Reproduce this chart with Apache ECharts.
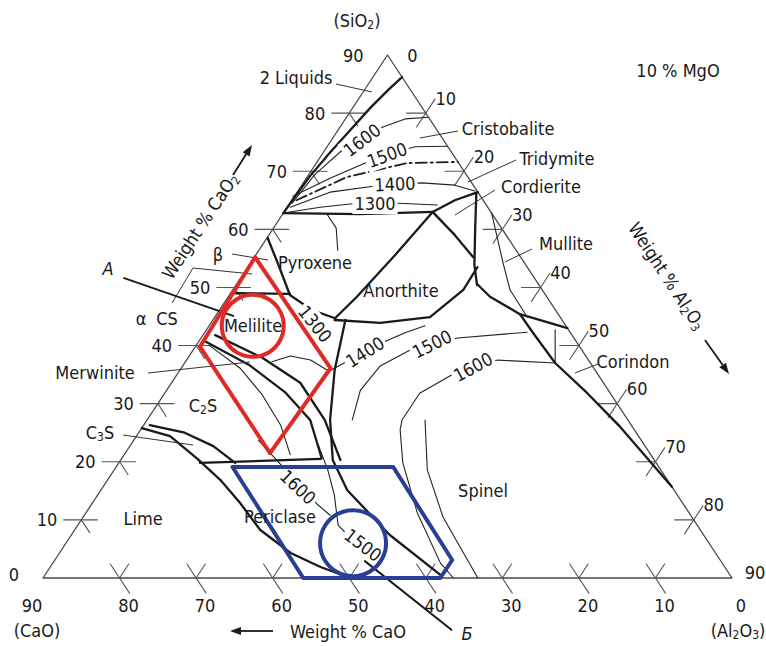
<!DOCTYPE html>
<html>
<head>
<meta charset="utf-8">
<title>CaO–Al2O3–SiO2 at 10 % MgO</title>
<script src="https://cdn.jsdelivr.net/npm/echarts@6.0.0/dist/echarts.min.js"></script>
<style>
html,body{margin:0;padding:0;background:#fff;}
#chart{width:766px;height:646px;}
</style>
</head>
<body>
<div id="chart"></div>
<script>
// Liquidus projection of CaO–Al2O3–SiO2 at a constant 10 wt% MgO.
// Every point is a composition [CaO, SiO2] in wt%; Al2O3 = 90 - CaO - SiO2.

const sideTicks = [10, 20, 30, 40, 50, 60, 70, 80];
const caoTickLabels = ['90', '80', '70', '60', '50', '40', '30', '20', '10', '0'];
const sio2TickLabels = ['0', '10', '20', '30', '40', '50', '60', '70', '80', '90'];
const al2o3TickLabels = ['0', '10', '20', '30', '40', '50', '60', '70', '80', '90'];

// heavy field boundaries
const twoLiquidLimit = [[0, 86.2], [2.9, 84], [6.8, 80.9], [11.3, 77.1], [15.8, 73.3], [20.5, 69.2], [24.2, 65.7], [27.2, 62.8]];
const pyroxeneTop = [[27.2, 62.8], [17.3, 62.6], [7.6, 63]];
const cordieriteTop = [[7.6, 63], [3.7, 65], [0, 66.4]];
const cordieriteMullite = [[0.3, 66.2], [3.6, 59.9], [6.7, 53.9], [8.1, 50.4]];
const anorthiteUpper = [[7.6, 63], [6.7, 59], [6.2, 55.2]];
const pyroxeneAnorthite = [[7.6, 63], [16.2, 55.6], [24.8, 48.4], [29.5, 44.7]];
const anorthiteLower = [[29.7, 44.4], [24, 43.9], [17, 44.9], [10.3, 49.6], [6.5, 53.5]];
const pyroxeneMelilite = [[31.4, 58.5], [32.3, 53.9], [33.4, 48.7], [31.8, 46.1], [29.5, 44.7]];
const meliliteTop = [[40.4, 49], [33.3, 48.9]];
const meliliteC2S = [[48.5, 40.8], [44.7, 36.6], [42.4, 32], [41.5, 27.2], [43.3, 20.6]];
const meliliteSpinel = [[46.6, 41.8], [42.4, 37.9], [39.6, 33.6], [39.6, 27.2], [41, 20.3]];
const spinelWest = [[28.3, 44.4], [34, 35.8], [38.9, 27.2], [42, 20.3], [42.7, 15.1], [41, 7.4], [37.8, 0.5]];
const limeField = [[64.2, 25.8], [61.2, 24.4], [59.6, 20.6], [58.4, 16.9], [57.8, 12.9], [57.5, 8.3], [55.5, 4.3], [52.8, 1.9], [49.9, 0]];
const c3sField = [[62.9, 26.3], [59, 25], [56.4, 22.7], [55, 19.8]];
const c2sLower = [[59.6, 19.8], [43.5, 20.5]];
const mulliteSpinel = [[8, 50.6], [7.4, 48.4], [5, 45.4]];
const spinelCorundum = [[5, 45.4], [4.9, 42.2], [4.6, 37], [3, 31.8], [1.6, 26], [0, 15.7]];
const mulliteCorundum = [[5, 45.4], [0, 43]];

// isotherms and the silica inversion
const iso1600Silica = [[25.2, 64.5], [19.8, 69.4], [14, 73.7], [6.8, 77.6], [3.2, 79], [0, 79.3]];
const iso1500Silica = [[24.5, 65.7], [18.1, 68.8], [12.2, 71.4], [8.2, 73], [4.3, 74.2], [0, 74.3]];
const silicaInversion = [[24.4, 65], [15.8, 69], [6.8, 71.4], [0, 71.6]];
const iso1400Silica = [[25.8, 63.8], [19.3, 66.4], [12.6, 67.5], [6.5, 68], [2.4, 67.6], [0.3, 66.6]];
const iso1300Silica = [[27.2, 62.8], [21.9, 63.8], [16.7, 64.5], [11.3, 64.5], [6.4, 64.2]];
const iso1400Middle = [[35.2, 35.4], [31.6, 37.3], [24.8, 40.8], [21.6, 42.2], [18.4, 43.4]];
const iso1600Spinel = [[4.6, 37], [11.8, 37.5], [16, 36.5], [19.4, 34.8], [24.9, 31.8], [29.5, 27.2], [30.6, 25.5], [33.1, 19.8], [35.5, 11.2], [36.8, 2.6], [36.4, 0]];
const iso1500Spinel = [[5.6, 42.3], [15.2, 41.3], [22.5, 39.2], [27.7, 36.5], [32.4, 32.3], [36, 27.2]];
const spinelInner = [[26.5, 27.2], [30.5, 18.6], [32.5, 10.5], [33, 3.1], [33.2, 0]];
const iso1600Periclase = [[50, 23.7], [47.8, 12.6], [47.1, 10.8]];
const iso1500Periclase = [[42.6, 22.9], [43.5, 18.6], [44.8, 14.3], [46.9, 9.1], [46.5, 7.4]];
const meliliteArc = [[41.5, 37.2], [38.6, 38.2], [36.3, 37.5], [35, 35.8]];
const pyroxeneInner = [[21.6, 62.5], [21.6, 60.2], [23.3, 56.4]];
const c2sInner = [[48.2, 39.9], [46.2, 36.1], [45.6, 31.5], [45.8, 26.3], [47.1, 21.2]];
const mulliteInner = [[0, 62.8], [2.8, 54.2], [4.2, 49.6], [4.3, 44.9]];
const corundumInner = [[1.75, 42.7], [4.6, 37]];

// marked composition ranges
const rangeA = [[34.7, 55.2], [34.4, 36.1], [49.6, 21.5], [49.6, 39.8], [34.7, 55.2]];
const circleA = [40.9, 43.4];
const rangeB = [[55.7, 19.1], [34.7, 19.1], [35, 3.1], [38.1, 0], [56, 0], [55.7, 19.1]];
const circleB = [46.5, 6];
const pointerA = [[53.6, 51.6], [42.6, 45.1]];
const pointerB = [[46.5, 2.9], [41.1, -8.9]];

const xy = p => [90 - p[0] - p[1] / 2, p[1]];

const FONT = "'Liberation Sans Narrow','DejaVu Sans Condensed','Roboto Condensed',sans-serif";
const INK = '#1a1a1a';
const RED = '#e12a26';
const BLUE = '#283f94';

function poly(pts, color, width, type, z) {
  return {
    type: 'line', data: pts.map(xy), symbol: 'none', showSymbol: false, clip: false,
    silent: true, animation: false, z: z || 2,
    lineStyle: { color: color, width: width, type: type || 'solid', cap: 'round', join: 'round', opacity: 1 }
  };
}

const series = [];
// triangle
series.push(poly([[90, 0], [0, 0], [0, 90], [90, 0]], '#4a4a4a', 1.3));
// ticks: each side carries a crossing isopleth plus a short inner stub
sideTicks.forEach(v => {
  // CaO along the base
  series.push(poly([[v, -2.6], [v, 2.4]], '#555', 1.1));
  series.push(poly([[v, 0], [v - 2.4, 2.4]], '#555', 1.1));
  // SiO2 along the left side
  series.push(poly([[90 - v + 2.3, v], [90 - v - 2.1, v]], '#555', 1.1));
  series.push(poly([[90 - v, v], [90 - v, v - 2.2]], '#555', 1.1));
  // Al2O3 along the right side
  series.push(poly([[-2.4, 90 - v + 2.4], [2.4, 90 - v - 2.4]], '#555', 1.1));
  series.push(poly([[0, 90 - v], [2.5, 90 - v]], '#555', 1.1));
});

[twoLiquidLimit, pyroxeneTop, cordieriteTop, cordieriteMullite, anorthiteUpper, pyroxeneAnorthite,
 anorthiteLower, pyroxeneMelilite, meliliteTop, meliliteC2S, meliliteSpinel, spinelWest, limeField,
 c3sField, c2sLower, mulliteSpinel, spinelCorundum, mulliteCorundum]
  .forEach(b => series.push(poly(b, INK, 2.3, 'solid', 4)));

[iso1600Silica, iso1500Silica, iso1400Silica, iso1300Silica, iso1400Middle, iso1600Spinel, iso1500Spinel,
 spinelInner, iso1600Periclase, iso1500Periclase, meliliteArc, pyroxeneInner, c2sInner, mulliteInner, corundumInner]
  .forEach(b => series.push(poly(b, '#222', 1.1, 'solid', 3)));
series.push(poly(silicaInversion, INK, 1.8, [11, 4, 2, 4], 3));

series.push(poly(pointerA, INK, 2, 'solid', 6));
series.push(poly(pointerB, INK, 2, 'solid', 6));
series.push(poly(rangeA, RED, 4, 'solid', 7));
series.push(poly(rangeB, BLUE, 4, 'solid', 7));
[[circleA, RED, 62], [circleB, BLUE, 66]].forEach(([c, col, size]) => series.push({
  type: 'scatter', data: [xy(c)], symbol: 'circle', symbolSize: size, clip: false, silent: true,
  animation: false, z: 8,
  itemStyle: { color: 'rgba(0,0,0,0)', borderColor: col, borderWidth: 4, opacity: 1 }
}));

const chart = echarts.init(document.getElementById('chart'), null, { renderer: 'svg' });
chart.setOption({
  animation: false,
  backgroundColor: '#fff',
  grid: { left: 43, top: 55, width: 689, height: 523 },
  xAxis: { type: 'value', min: 0, max: 90, show: false },
  yAxis: { type: 'value', min: 0, max: 90, show: false },
  series: series
});

const sub = { fontSize: 12, verticalAlign: 'bottom', lineHeight: 12, fontFamily: FONT, fill: INK };
function text(t, x, y, opt) {
  opt = opt || {};
  return {
    type: 'text', x: x, y: y, rotation: opt.rot || 0, z: opt.z || 20, silent: true,
    style: {
      text: t, x: 0, y: 0, align: opt.align || 'center', verticalAlign: 'middle',
      fontSize: opt.size || 18, fontFamily: FONT, fontStyle: opt.italic ? 'italic' : 'normal',
      fill: INK, lineHeight: 22, rich: { s: sub },
      backgroundColor: opt.bg ? '#fff' : undefined, padding: opt.bg ? [0, 2, 0, 2] : 0
    }
  };
}
function line(pts, w, col) {
  return { type: 'polyline', z: 5, silent: true, shape: { points: pts },
    style: { stroke: col || '#333', lineWidth: w || 1, fill: null } };
}
function arrow(x1, y1, x2, y2) {
  const a = Math.atan2(y2 - y1, x2 - x1), L = 11, W = 4;
  const bx = x2 - L * Math.cos(a), by = y2 - L * Math.sin(a);
  return [line([[x1, y1], [bx, by]], 1.8, INK), {
    type: 'polygon', z: 5, silent: true,
    shape: { points: [[x2, y2], [bx + W * Math.sin(a), by - W * Math.cos(a)], [bx - W * Math.sin(a), by + W * Math.cos(a)]] },
    style: { fill: INK }
  }];
}

const px = p => chart.convertToPixel({ gridIndex: 0 }, xy(p));
const g = [];
// tick labels
caoTickLabels.forEach((t, i) => {
  const c = 90 - i * 10, p = px([c, 0]);
  g.push(text(t, p[0] + (i === 0 ? -11 : 9), 605));
});
sio2TickLabels.forEach((t, i) => {
  const s = i * 10, p = px([90 - s, s]);
  g.push(text(t, p[0] - 24, p[1] + (i === 0 ? -4 : 0), { align: 'right' }));
});
al2o3TickLabels.forEach((t, i) => {
  const a = i * 10, p = px([0, 90 - a]);
  if (i === 0) g.push(text(t, p[0] + 25, p[1]));
  else if (i === 9) g.push(text(t, p[0] + 23, p[1] - 6));
  else g.push(text(t, p[0] + 20, p[1] - 15));
});

// field names and captions
[
  ['(SiO{s|2})', 357, 20], ['2 Liquids', 296, 77], ['10 % MgO', 678, 70],
  ['Cristobalite', 508, 128], ['Tridymite', 557, 158], ['Cordierite', 541, 186],
  ['Mullite', 566, 243], ['β', 218, 254], ['Pyroxene', 315, 262], ['Anorthite', 401, 290],
  ['α', 141, 318], ['CS', 167, 318], ['Melilite', 253, 325], ['Merwinite', 95, 372],
  ['Corindon', 633, 361], ['C{s|2}S', 203, 405], ['C{s|3}S', 100, 432], ['Spinel', 483, 490],
  ['Lime', 143, 518], ['Periclase', 280, 516], ['(CaO)', 37, 630], ['(Al{s|2}O{s|3})', 738, 630],
  ['Weight % CaO', 348, 631]
].forEach(([t, x, y]) => g.push(text(t, x, y)));
g.push(text('A', 108, 268, { italic: true }));
g.push(text('Б', 467, 633, { italic: true }));
g.push(text('Weight % CaO{s|2}', 200, 226, { rot: 0.988 }));
g.push(text('Weight % Al{s|2}O{s|3}', 667, 276, { rot: -0.988 }));

// isotherm temperatures (those inside the marked ranges sit beneath the outlines)
[
  ['1600', 362, 140, 0.65, 20], ['1500', 387, 155, 0.35, 20], ['1400', 395, 184, 0.05, 20], ['1300', 375, 203, 0, 20],
  ['1300', 315, 324, -0.89, 6], ['1400', 365, 352, 0.56, 20], ['1500', 432, 344, 0.47, 20], ['1600', 473, 367, 0.5, 20],
  ['1600', 298, 487, -0.75, 6], ['1500', 363, 545, -0.65, 6]
].forEach(([t, x, y, r, z]) => g.push(text(t, x, y, { rot: r, bg: true, z: z })));

// leader lines
[
  [[336, 84], [372, 92]], [[458, 131], [420, 138]], [[516, 160], [468, 182]], [[495, 190], [455, 215]],
  [[532, 249], [505, 262]], [[232, 254], [268, 260]], [[172, 303], [193, 268], [252, 274]],
  [[148, 373], [250, 362]], [[123, 435], [193, 445]], [[598, 364], [575, 373]]
].forEach(pts => g.push(line(pts, 1, '#333')));

g.push(...arrow(233, 175, 252, 145));
g.push(...arrow(705, 340, 729, 374));
g.push(...arrow(273, 631, 230, 631));

chart.setOption({ graphic: g });
</script>
</body>
</html>
